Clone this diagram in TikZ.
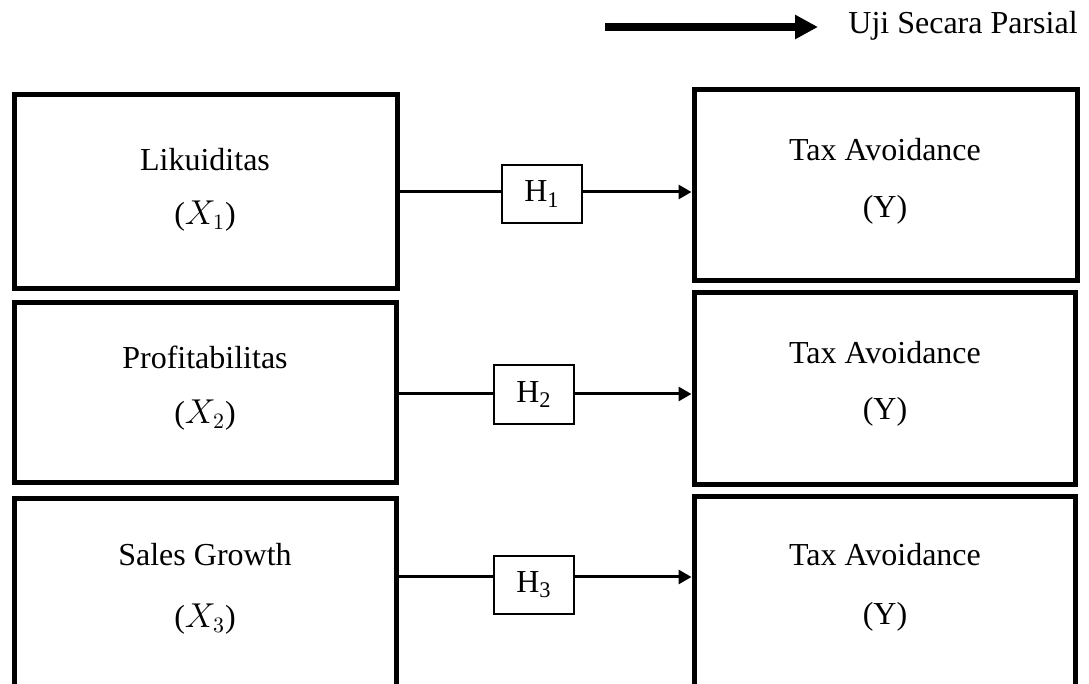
\documentclass[tikz,border=0pt]{standalone}
\usepackage{fontspec}
\setmainfont{Liberation Serif}
\usetikzlibrary{arrows.meta}
\tikzset{
  bigbox/.style={draw, line width=2.5pt, rectangle, inner sep=0pt},
  hbox/.style={draw, line width=1pt, rectangle, inner sep=0pt, minimum width=40pt},
  lbl/.style={inner sep=0pt, font=\fontsize{16}{19}\selectfont},
  conn/.style={line width=1.5pt},
  arr/.style={line width=1.5pt, -{Triangle[length=6.5pt,width=7pt]}},
}
\begin{document}
\begin{tikzpicture}[x=0.5pt,y=-0.5pt]
\useasboundingbox (0,0) rectangle (1089,684);
% legend
\coordinate (legA) at (605,27);
\coordinate (legB) at (818,27);
\draw[line width=4pt, -{Triangle[length=11.5pt,width=11.5pt]}] (legA) -- (legB);
\node[lbl, anchor=west] (legT) at (848,26) {Uji Secara Parsial};
% boxes
\node[bigbox, minimum width=191.5pt, minimum height=97pt] (L1) at (205.5,192) {};
\node[bigbox, minimum width=191.5pt, minimum height=95.5pt] (R1) at (885.5,185.5) {};
\node[bigbox, minimum width=191pt, minimum height=90pt] (L2) at (205,393) {};
\node[bigbox, minimum width=190.5pt, minimum height=96pt] (R2) at (884.5,389) {};
\node[bigbox, minimum width=191pt, minimum height=110.5pt] (L3) at (205,609.5) {};
\node[bigbox, minimum width=190.5pt, minimum height=111.5pt] (R3) at (884.5,608.5) {};
% texts
\node[lbl] (t1) at (205,160) {Likuiditas};
\node[lbl] (x1) at (205,216) {($X_1$)};
\node[lbl] (ta1) at (885,150) {Tax Avoidance};
\node[lbl] (y1) at (885,210) {(Y)};
\node[lbl] (t2) at (205,357) {Profitabilitas};
\node[lbl] (x2) at (205,415) {($X_2$)};
\node[lbl] (ta2) at (885,353) {Tax Avoidance};
\node[lbl] (y2) at (885,412) {(Y)};
\node[lbl] (t3) at (205,555) {Sales Growth};
\node[lbl] (x3) at (205,619) {($X_3$)};
\node[lbl] (ta3) at (885,555) {Tax Avoidance};
\node[lbl] (y3) at (885,617) {(Y)};
% hypothesis boxes
\node[hbox, minimum height=29pt, font=\fontsize{16}{19}\selectfont] (H1) at (542,194) {H\textsubscript{1}};
\node[hbox, minimum height=29.5pt, font=\fontsize{16}{19}\selectfont] (H2) at (534,394.5) {H\textsubscript{2}};
\node[hbox, minimum height=29pt, font=\fontsize{16}{19}\selectfont] (H3) at (534,585) {H\textsubscript{3}};
% rows
\coordinate (r1) at (0,192);
\coordinate (r2) at (0,394);
\coordinate (r3) at (0,577);
\draw[conn] (L1.east |- r1) -- (H1.west |- r1);
\draw[arr] (H1.east |- r1) -- (R1.west |- r1);
\draw[conn] (L2.east |- r2) -- (H2.west |- r2);
\draw[arr] (H2.east |- r2) -- (R2.west |- r2);
\draw[conn] (L3.east |- r3) -- (H3.west |- r3);
\draw[arr] (H3.east |- r3) -- (R3.west |- r3);
\end{tikzpicture}
\end{document}
